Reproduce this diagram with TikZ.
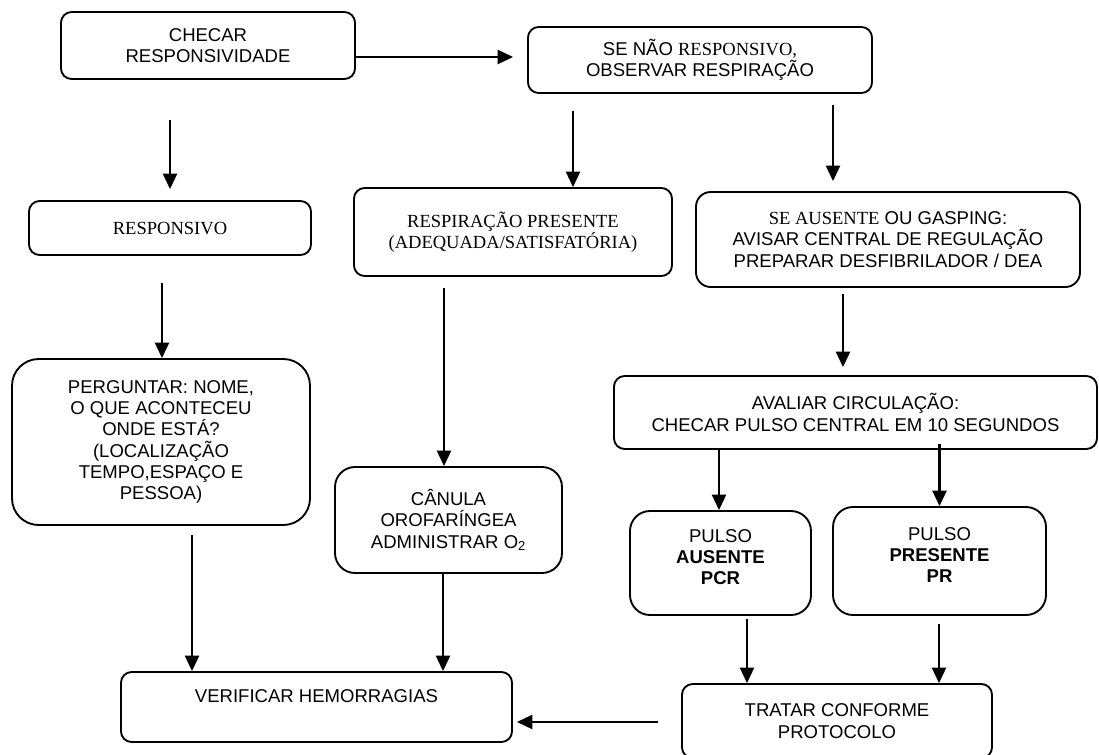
\documentclass[tikz,border=0pt]{standalone}
\usepackage{fontspec}
\setmainfont{Liberation Sans}
\newfontfamily\timesfont{Liberation Serif}
\usepackage{tikz}
\usetikzlibrary{arrows.meta}
\newcommand\boxfont{\fontsize{13.9pt}{16pt}\selectfont}
\tikzset{
  every picture/.append style={line width=1.4pt},
  every node/.append style={font=\boxfont},
}

\begin{document}
\begin{tikzpicture}[
    x=0.75pt, y=-0.75pt,
    block/.style={rectangle, draw, rounded corners=8pt, align=center, inner sep=2pt},
    serif/.style={font=\boxfont\timesfont},
    sz/.style 2 args={minimum width=#1*0.75pt, minimum height=#2*0.75pt},
    arrow/.style={-{Triangle[length=11.5pt,width=10.5pt]}, line width=1.6pt}
]
\clip (0,0) rectangle (1099,754);

% top row
\node[block, sz={294}{67}] (chk) at (208,45.5) {CHECAR\\RESPONSIVIDADE};
\node[block, sz={344}{66}] (obs) at (700,60) {SE NÃO {\timesfont RESPONSIVO,}\\OBSERVAR RESPIRAÇÃO};

% second row
\node[block, serif, sz={282}{54}] (resp) at (170,228) {RESPONSIVO};
\node[block, serif, sz={318}{88}] (rpres) at (513,232) {RESPIRAÇÃO PRESENTE\\(ADEQUADA/SATISFATÓRIA)};
\node[block, rounded corners=11pt, sz={384}{95}] (aus) at (888,239.5) {{\timesfont SE AUSENTE} OU GASPING:\\AVISAR CENTRAL DE REGULAÇÃO\\PREPARAR DESFIBRILADOR / DEA};

% middle
\node[block, rounded corners=20pt, sz={298}{166}] (perg) at (161,442) {PERGUNTAR: NOME,\\O QUE ACONTECEU\\ONDE ESTÁ?\\(LOCALIZAÇÃO\\TEMPO,ESPAÇO E\\PESSOA)};
\node[block, rounded corners=15pt, sz={227}{106}] (can) at (448.5,520) {CÂNULA\\OROFARÍNGEA\\ADMINISTRAR O\textsubscript{2}};
\node[block, sz={483}{73}] (aval) at (855.5,412.5) {AVALIAR CIRCULAÇÃO:\\CHECAR PULSO CENTRAL EM 10 SEGUNDOS};
\node[block, rounded corners=15pt, sz={181}{104}] (pa) at (720.5,563) {PULSO\\\textbf{AUSENTE}\\\textbf{PCR}\\[-7pt]\mbox{}};
\node[block, rounded corners=15pt, sz={213}{108}] (pp) at (939.5,561) {PULSO\\\textbf{PRESENTE}\\\textbf{PR}\\[-7pt]\mbox{}};

% bottom row
\node[block, sz={391}{70}] (ver) at (316.5,707) {VERIFICAR HEMORRAGIAS\\\mbox{}};
\node[block, sz={310}{74}] (trat) at (837,721) {TRATAR CONFORME\\PROTOCOLO};

\draw[arrow, shorten >=10.5pt] (chk.east |- 0,57) -- (obs.west |- 0,57);
\draw[arrow, shorten <=30pt, shorten >=8.25pt] (chk.south -| resp.north) -- (resp.north);
\draw[arrow, shorten <=12.75pt] (obs.south -| 573,0) -- (rpres.north -| 573,0);
\draw[arrow, shorten <=8.25pt, shorten >=7.5pt] (obs.south -| 833,0) -- (aus.north -| 833,0);
\draw[arrow, shorten <=20.25pt] (resp.south -| 162,0) -- (perg.north -| 162,0);
\draw[arrow, shorten <=8.25pt] (rpres.south -| 444,0) -- (can.north -| 444,0);
\draw[arrow, shorten <=4.5pt, shorten >=6pt] (aus.south -| 843,0) -- (aval.north -| 843,0);
\draw[arrow] (aval.south -| 719,0) -- (pa.north -| 719,0);
\draw[arrow, shorten <=-4.5pt] (aval.south -| pp.north) -- (pp.north);
\draw[arrow, shorten <=6.75pt] (perg.south -| 192,0) -- (ver.north -| 192,0);
\draw[arrow] (can.south -| 443,0) -- (ver.north -| 443,0);
\draw[arrow, shorten <=2.25pt] (pa.south -| 747,0) -- (trat.north -| 747,0);
\draw[arrow, shorten <=6pt] (pp.south -| 939,0) -- (trat.north -| 939,0);
\draw[arrow, shorten <=17.25pt, shorten >=3pt] (trat.west |- 0,722) -- (ver.east |- 0,722);
\end{tikzpicture}
\end{document}
